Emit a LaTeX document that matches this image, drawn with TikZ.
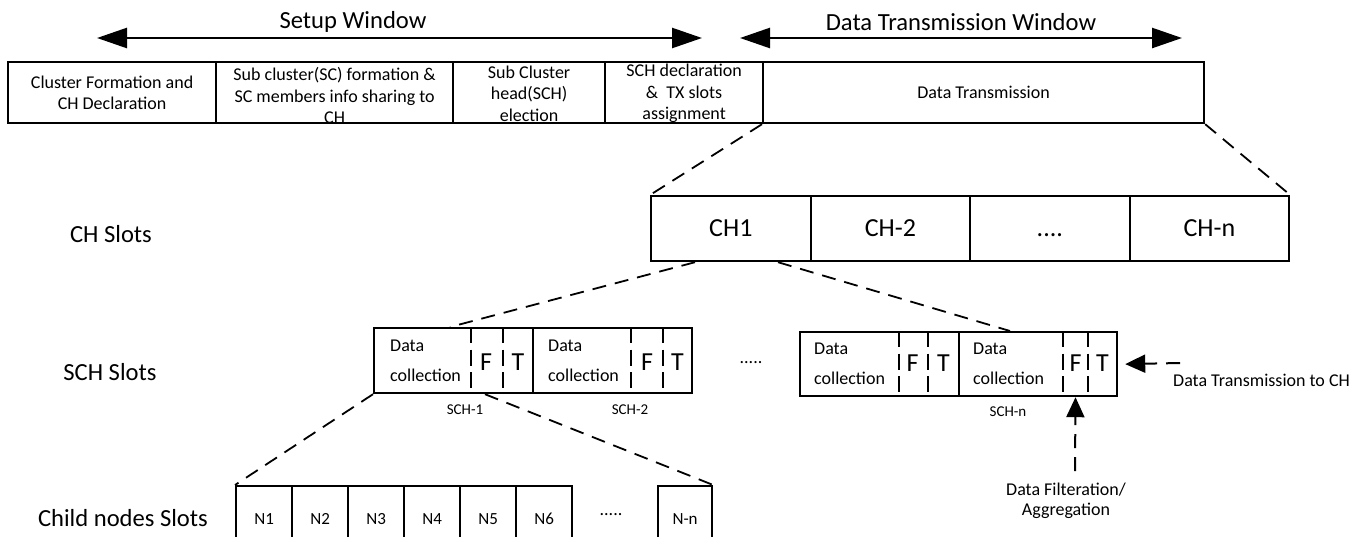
\documentclass[tikz,border=0pt]{standalone}
\usepackage{fontspec}
\setmainfont{Carlito}
\usetikzlibrary{arrows.meta,calc}
\begin{document}
\begin{tikzpicture}[x=1pt,y=-1pt,
  box/.style={draw, line width=2.2pt, rectangle, inner sep=0pt, anchor=north west},
  txt/.style={inner sep=0pt, align=center, font=\fontsize{18}{21.5}\selectfont},
  dc/.style={inner sep=0pt, align=left, anchor=west, font=\fontsize{18}{30}\selectfont},
  ft/.style={inner sep=0pt, font=\fontsize{26}{30}\selectfont},
  small/.style={inner sep=0pt, font=\fontsize{15}{18}\selectfont},
  head/.style={inner sep=0pt, font=\fontsize{24.6}{29}\selectfont},
  chslot/.style={box, minimum width=159.5pt, minimum height=65pt, font=\fontsize{26}{30}\selectfont},
  child/.style={box, minimum width=56pt, minimum height=66pt, font=\fontsize{17}{20}\selectfont},
  zoomline/.style={line width=1.8pt, dash pattern=on 14pt off 9pt},
  sep/.style={line width=1.8pt, dash pattern=on 16pt off 6.5pt},
  span/.style={line width=2.5pt, {Triangle[length=30pt,width=20pt]}-{Triangle[length=30pt,width=20pt]}},
  pointer/.style={line width=2pt, dash pattern=on 14pt off 9pt, -{Triangle[length=20pt,width=18pt]}},
]
\useasboundingbox (0,0) rectangle (1370,536);
\clip (0,0) rectangle (1370,536);

% ---- phases of one round ----
\node[box, minimum width=208pt, minimum height=61pt] (s1) at (7,61) {};
\node[box, minimum width=237pt, minimum height=61pt] (s2) at (215,61) {};
\node[box, minimum width=152pt, minimum height=61pt] (s3) at (452,61) {};
\node[box, minimum width=158pt, minimum height=61pt] (s4) at (604,61) {};
\node[box, minimum width=441pt, minimum height=61pt] (s5) at (762,61) {};

\node[txt] (t1) at (s1.center) {Cluster Formation and\\CH Declaration};
\node[txt] (t2) at ($(s2.center)+(0,3)$) {Sub cluster(SC) formation \&\\SC members info sharing to\\CH};
\node[txt] (t3) at ($(s3.center)+(0,1)$) {Sub Cluster\\head(SCH)\\election};
\node[txt] (t4) at ($(s4.center)+(0,1)$) {SCH declaration\\\&\ \ TX slots\\assignment};
\node[txt] (t5) at (s5.center) {Data Transmission};

% ---- window spans ----
\coordinate (swl) at (97,38);
\coordinate (swr) at (702,38);
\draw[span] (swl) -- (swr);
\node[head] (swt) at (353,22) {Setup Window};

\coordinate (dwl) at (740,38);
\coordinate (dwr) at (1182,38);
\draw[span] (dwl) -- (dwr);
\node[head] (dwt) at (961,22) {Data Transmission Window};

% ---- row captions ----
\node[head] (lch) at (111,234) {CH Slots};
\node[head] (lsch) at (110,372) {SCH Slots};
\node[head] (lcn) at (123,518) {Child nodes Slots};

% ---- CH slots ----
\node[chslot] (ch1) at (650,195) {CH1};
\node[chslot] (ch2) at (809.5,195) {CH-2};
\node[chslot] (ch3) at (969,195) {\vphantom{CH}....};
\node[chslot] (chn) at (1128.5,195) {CH-n};

% ---- SCH slots ----
\node[box, minimum width=159pt, minimum height=65pt] (sch1) at (373,327) {};
\node[box, minimum width=159pt, minimum height=65pt] (sch2) at (532,327) {};
\node[box, minimum width=159pt, minimum height=64pt] (schm) at (799,331) {};
\node[box, minimum width=158pt, minimum height=64pt] (schn) at (958,331) {};

\draw[sep] ($(sch1.north west)+(98,0)$) -- ($(sch1.south west)+(98,0)$);
\draw[sep] ($(sch1.north west)+(130,0)$) -- ($(sch1.south west)+(130,0)$);
\draw[sep] ($(sch2.north west)+(99,0)$) -- ($(sch2.south west)+(99,0)$);
\draw[sep] ($(sch2.north west)+(131,0)$) -- ($(sch2.south west)+(131,0)$);
\draw[sep] ($(schm.north west)+(100,0)$) -- ($(schm.south west)+(100,0)$);
\draw[sep] ($(schm.north west)+(129,0)$) -- ($(schm.south west)+(129,0)$);
\draw[sep] ($(schn.north west)+(105,0)$) -- ($(schn.south west)+(105,0)$);
\draw[sep] ($(schn.north west)+(130,0)$) -- ($(schn.south west)+(130,0)$);

\node[dc] (dc1) at ($(sch1.west)+(17,0)$) {Data\\collection};
\node[dc] (dc2) at ($(sch2.west)+(16,0)$) {Data\\collection};
\node[dc] (dcm) at ($(schm.west)+(15,0)$) {Data\\collection};
\node[dc] (dcn) at ($(schn.west)+(15,0)$) {Data\\collection};

\node[ft] (f1) at ($(sch1.north west)+(113,35)$) {F};
\node[ft] (r1) at ($(sch1.north west)+(145,35)$) {T};
\node[ft] (f2) at ($(sch2.north west)+(115,35)$) {F};
\node[ft] (r2) at ($(sch2.north west)+(145.5,35)$) {T};
\node[ft] (fm) at ($(schm.north west)+(113.5,32)$) {F};
\node[ft] (rm) at ($(schm.north west)+(144.5,32)$) {T};
\node[ft] (fn) at ($(schn.north west)+(117.5,32)$) {F};
\node[ft] (rn) at ($(schn.north west)+(144.5,32)$) {T};

\node[small] (l1) at (465,410) {SCH-1};
\node[small] (l2) at (630,410) {SCH-2};
\node[small] (ln) at (1008,412) {SCH-n};
\node[inner sep=0pt, font=\fontsize{18}{20}\selectfont] (dots1) at (751,363) {.....};

% ---- child node slots ----
\node[child] (n1) at (235,485) {N1};
\node[child] (n2) at (291,485) {N2};
\node[child] (n3) at (347,485) {N3};
\node[child] (n4) at (403,485) {N4};
\node[child] (n5) at (459,485) {N5};
\node[child] (n6) at (515,485) {N6};
\node[child, minimum width=54pt] (nn) at (657,485) {N-n};
\node[inner sep=0pt, font=\fontsize{18}{20}\selectfont] (dots2) at (611,515) {.....};

% ---- zoom-in guides ----
\draw[zoomline] (s5.south west) -- (ch1.north west);
\draw[zoomline] (s5.south east) -- (chn.north east);
\draw[zoomline] ($(ch1.south west)+(45,0)$) -- ($(sch1.north west)+(77,0)$);
\draw[zoomline] ($(ch1.south west)+(128,0)$) -- ($(schn.north west)+(52,0)$);
\draw[zoomline] (sch1.south west) -- (n1.north west);
\draw[zoomline] ($(sch1.south west)+(112,0)$) -- (nn.north east);

% ---- annotations ----
\node[txt, font=\fontsize{18}{20}\selectfont] (agg) at (1066,501) {Data Filteration/\\Aggregation};
\coordinate (aggtail) at (1075,471);
\draw[pointer] (aggtail) -- ($(schn.south west)+(117.5,0)$);

\node[txt, anchor=west] (dtx) at (1173,380) {Data Transmission to CH};
\coordinate (dtxtail) at (1180,363);
\draw[pointer] (dtxtail) -- ($(schn.east)+(7,0)$);
\end{tikzpicture}
\end{document}
